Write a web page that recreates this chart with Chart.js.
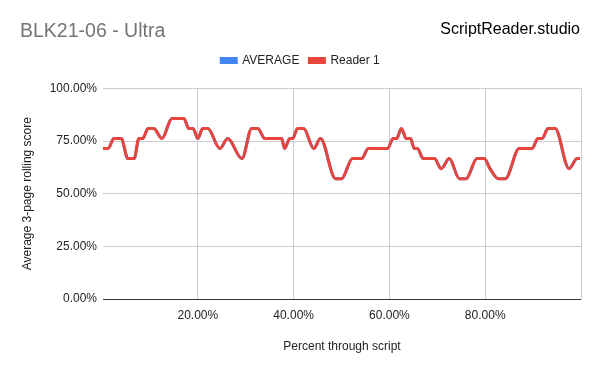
<!DOCTYPE html>
<html>
<head>
<meta charset="utf-8">
<script src="https://cdn.jsdelivr.net/npm/chart.js@4"></script>
<style>
  html, body { margin: 0; padding: 0; background: #fff; }
  #wrap { width: 600px; height: 371px; }
</style>
</head>
<body>
<div id="wrap"><canvas id="chart"></canvas></div>
<script>
// percent through script (x) and rolling score in percent (y)
const positions = [0.2, 1.25, 2.5, 4.0, 5.4, 6.7, 7.7, 8.5, 9.6, 10.8, 12.5, 14.6, 15.8, 17.1, 18.1, 19.0,
  20.0, 21.0, 22.1, 24.6, 26.25, 29.2, 31.25, 32.5, 34.0, 35.8, 37.5, 38.1, 39.2, 39.8, 40.8, 42.1,
  44.2, 45.6, 48.75, 50.0, 52.3, 54.2, 55.6, 57.5, 59.6, 60.8, 61.5, 62.5, 63.5, 64.4, 65.2, 65.8,
  67.1, 68.3, 69.4, 70.8, 72.5, 74.6, 76.0, 78.3, 79.8, 81.0, 82.7, 84.2, 87.1, 88.5, 89.8, 91.0,
  91.9, 93.1, 94.6, 97.5, 99.2, 99.8];
const reader1 = [71.43, 71.43, 76.19, 76.19, 66.67, 66.67, 76.19, 76.19, 80.95, 80.95, 76.19, 85.71, 85.71, 85.71, 80.95, 80.95,
  76.19, 80.95, 80.95, 71.43, 76.19, 66.67, 80.95, 80.95, 76.19, 76.19, 76.19, 71.43, 76.19, 76.19, 80.95, 80.95,
  71.43, 76.19, 57.14, 57.14, 66.67, 66.67, 71.43, 71.43, 71.43, 76.19, 76.19, 80.95, 76.19, 76.19, 71.43, 71.43,
  66.67, 66.67, 66.67, 61.90, 66.67, 57.14, 57.14, 66.67, 66.67, 61.90, 57.14, 57.14, 71.43, 71.43, 71.43, 76.19,
  76.19, 80.95, 80.95, 61.90, 66.67, 66.67];
const average = reader1.slice();
const xTicks = [20, 40, 60, 80, 100];
const yTicks = [0, 25, 50, 75, 100];

const pts = arr => arr.map((v, i) => ({ x: positions[i], y: v }));

const cornerText = {
  id: 'cornerText',
  beforeInit(chart) {
    // give the legend some extra room below it
    const lg = chart.legend;
    if (lg && !lg._patched) {
      const fit = lg.fit;
      lg.fit = function () { fit.call(this); this.height += 12; };
      lg._patched = true;
    }
  },
  afterDraw(chart) {
    const c = chart.ctx;
    c.save();
    c.font = '16px "Liberation Sans", Arial, sans-serif';
    c.fillStyle = '#000';
    c.textAlign = 'right';
    c.textBaseline = 'middle';
    c.fillText('ScriptReader.studio', 580, 30);
    c.restore();
  }
};

const font = '"Liberation Sans", Arial, sans-serif';

new Chart(document.getElementById('chart'), {
  type: 'line',
  data: {
    datasets: [
      {
        label: 'AVERAGE',
        data: pts(average),
        borderColor: '#4285f4',
        backgroundColor: '#4285f4',
        borderWidth: 3,
        pointRadius: 0,
        cubicInterpolationMode: 'monotone',
        order: 2
      },
      {
        label: 'Reader 1',
        data: pts(reader1),
        borderColor: '#e8453c',
        backgroundColor: '#e8453c',
        borderWidth: 3,
        pointRadius: 0,
        cubicInterpolationMode: 'monotone',
        order: 1
      }
    ]
  },
  options: {
    responsive: true,
    maintainAspectRatio: false,
    animation: false,
    layout: { padding: { left: 20, right: 19, top: 0, bottom: 0 } },
    plugins: {
      title: {
        display: true,
        text: 'BLK21-06 - Ultra',
        align: 'start',
        color: '#757575',
        font: { family: font, size: 19.5, weight: 'normal' },
        padding: { top: 20, bottom: 1 }
      },
      legend: {
        labels: {
          color: '#222',
          font: { family: font, size: 12 },
          boxWidth: 15,
          boxHeight: 4,
          padding: 10,
          sort: (a, b) => a.datasetIndex - b.datasetIndex
        }
      },
      tooltip: { enabled: false }
    },
    scales: {
      x: {
        type: 'linear',
        min: 0.2,
        max: 100,
        afterBuildTicks: s => { s.ticks = xTicks.map(v => ({ value: v })); },
        afterFit: s => { s.height = 72; },
        ticks: {
          color: '#222',
          font: { family: font, size: 12 },
          padding: 9,
          maxRotation: 0,
          callback: v => v >= 100 ? '' : v.toFixed(2) + '%'
        },
        grid: { color: '#cccccc', drawTicks: false },
        border: { display: false },
        title: {
          display: true,
          text: 'Percent through script',
          color: '#222',
          font: { family: font, size: 12 },
          padding: { top: 17, bottom: 17 }
        }
      },
      y: {
        min: 0,
        max: 100,
        afterBuildTicks: s => { s.ticks = yTicks.map(v => ({ value: v })); },
        afterFit: s => { s.width = 83; },
        ticks: {
          color: '#222',
          font: { family: font, size: 12 },
          padding: 6,
          callback: v => v.toFixed(2) + '%'
        },
        grid: {
          color: c => c.tick && c.tick.value === 0 ? '#333333' : '#cccccc',
          drawTicks: false
        },
        border: { display: false },
        title: {
          display: true,
          text: 'Average 3-page rolling score',
          color: '#222',
          font: { family: font, size: 12 },
          padding: { top: 0, bottom: 0 }
        }
      }
    }
  },
  plugins: [cornerText]
});
</script>
</body>
</html>
